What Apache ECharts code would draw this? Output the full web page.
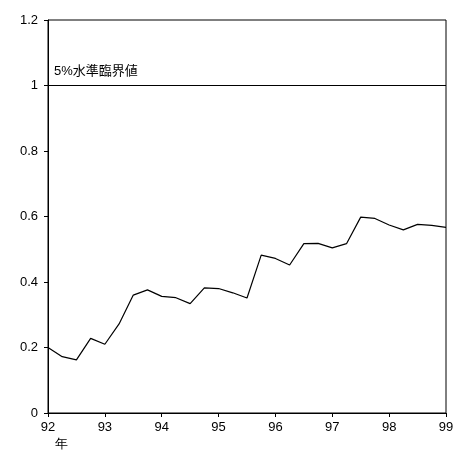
<!DOCTYPE html>
<html>
<head>
<meta charset="utf-8">
<script src="https://cdn.jsdelivr.net/npm/echarts@6/dist/echarts.min.js"></script>
<style>html,body{margin:0;padding:0;background:#fff}#main{width:458px;height:457px}</style>
</head>
<body>
<div id="main"></div>
<script>
// quarterly values, 92Q1 .. 99Q1
var values = [0.20,0.172,0.162,0.228,0.21,0.272,0.36,0.376,0.356,0.352,0.334,0.382,0.380,0.367,0.351,0.482,0.472,0.452,0.517,0.518,0.504,0.517,0.598,0.594,0.574,0.559,0.576,0.573,0.567];
var startYear = 92;
var criticalValue = 1;
var criticalLabel = '5%水準臨界値';

var points = values.map(function(v, i) { return [startYear + i / 4, v]; });

var myChart = echarts.init(document.getElementById('main'));
myChart.setOption({
    animation: false,
    textStyle: { fontFamily: 'Liberation Sans, Noto Sans CJK JP', color: '#000' },
    grid: { left: 48, right: 12, top: 20, bottom: 44, show: true, borderColor: '#000', borderWidth: 1 },
    xAxis: {
        type: 'value', min: 92, max: 99, interval: 1,
        axisLine: { lineStyle: { color: '#000' } },
        axisTick: { show: true, length: 4, lineStyle: { color: '#000' } },
        axisLabel: { color: '#000', fontSize: 13, margin: 8 },
        splitLine: { show: false }
    },
    yAxis: {
        type: 'value', min: 0, max: 1.2, interval: 0.2,
        axisLine: { show: true, lineStyle: { color: '#000' } },
        axisTick: { show: true, length: 4, lineStyle: { color: '#000' } },
        axisLabel: { color: '#000', fontSize: 13, margin: 10,
            formatter: function(v) { return String(Math.round(v * 10) / 10); } },
        splitLine: { show: false }
    },
    graphic: [{ type: 'text', left: 55, top: 438, style: { text: '年', fontSize: 13, fill: '#000' } }],
    series: [{
        type: 'line', data: points, symbol: 'none',
        lineStyle: { color: '#000', width: 1.2 },
        markLine: {
            silent: true, symbol: 'none',
            lineStyle: { color: '#000', width: 1.2, type: 'solid' },
            label: { position: 'insideStartTop', formatter: criticalLabel, color: '#000', fontSize: 13, distance: [6, 8] },
            data: [{ yAxis: criticalValue }]
        }
    }]
});
</script>
</body>
</html>
